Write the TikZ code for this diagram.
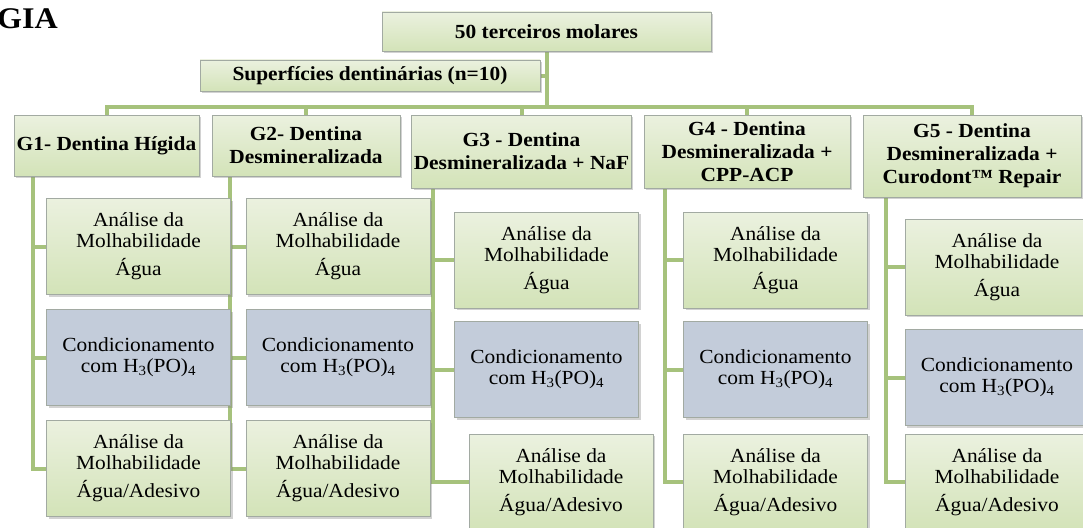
\documentclass[tikz,border=0pt]{standalone}
\usepackage{fontspec}
\setmainfont[FakeStretch=1.07]{Liberation Serif}
\usepackage{tikz}
\usetikzlibrary{shadows,backgrounds}
\definecolor{boxgreen}{HTML}{D3E3B8}
\definecolor{boxgreentop}{HTML}{EBF1DF}
\definecolor{boxblue}{HTML}{C3CCDA}
\definecolor{linegreen}{HTML}{A6C27C}
\definecolor{boxline}{HTML}{A2AAA2}
\newcommand{\bodyfont}{\fontsize{20}{21}\selectfont}
\newcommand{\headfont}{\fontsize{20}{23}\selectfont\bfseries}
\tikzstyle{box} = [draw=boxline, line width=0.7pt, align=center, inner sep=2pt,
                   drop shadow={shadow xshift=2pt, shadow yshift=-2pt, opacity=0.35}]
\tikzstyle{greenbox} = [box, top color=boxgreentop, bottom color=boxgreen, font=\bodyfont,
                        minimum width=184pt, minimum height=96pt]
\tikzstyle{bluebox} = [box, fill=boxblue, font=\bodyfont, minimum width=184pt, minimum height=96pt]
\tikzstyle{head} = [box, top color=boxgreentop, bottom color=boxgreen, font=\headfont]
\tikzstyle{conn} = [draw=linegreen, line width=4pt]

\begin{document}
\begin{tikzpicture}[x=1pt, y=-1pt]
	\useasboundingbox (0,0) rectangle (1083,527);
	% title (cut at the left)
	\node[anchor=base west, inner sep=0pt, font=\fontsize{30}{30}\selectfont\bfseries] (title) at (-3,29) {GIA};
	% top of the tree
	\node[head, minimum width=329pt, minimum height=39pt] (top) at (546.5,31.5) {50 terceiros molares};
	\node[head, minimum width=340pt, minimum height=31pt] (sup) at (370,75.5) {Superfícies dentinárias (n=10)};
	\coordinate (bus) at (0,107);
	% the five groups
	\node[head, minimum width=185pt, minimum height=61pt] (g1) at (106.5,145.5) {G1- Dentina Hígida};
	\node[head, minimum width=188pt, minimum height=61pt] (g2) at (306,145.5) {G2- Dentina\\Desmineralizada};
	\node[head, minimum width=217pt, minimum height=73pt] (g3) at (521.5,151.5) {G3 - Dentina\\Desmineralizada + NaF};
	\node[head, minimum width=206pt, minimum height=73pt] (g4) at (747,151.5) {G4 - Dentina\\Desmineralizada +\\CPP-ACP};
	\node[head, minimum width=218pt, minimum height=82pt] (g5) at (972,156) {G5 - Dentina\\Desmineralizada +\\Curodont™ Repair};
	% steps under each group
	\foreach \c/\xa/\xb/\ya/\yb/\yc in {1/138.5/138.5/246.5/357.5/468.5, 2/338/338/246.5/357.5/468.5,
	                                    3/546.5/561/260/369.5/482, 4/775.5/775.5/260/369.5/482,
	                                    5/997/997/267/377.5/482}
	{
		\node[greenbox] (a\c) at (\xa,\ya) {Análise da\\Molhabilidade\\[7pt]Água};
		\node[bluebox] (b\c) at (\xa,\yb) {Condicionamento\\com H\textsubscript{3}(PO)\textsubscript{4}};
		\node[greenbox] (c\c) at (\xb,\yc) {Análise da\\Molhabilidade\\[7pt]Água/Adesivo};
	}
	\begin{pgfonlayer}{background}
		\fill[white] (0,0) rectangle (1083,527);
		\draw[conn] (sup.east) -- (sup.east -| top.south);
		\foreach \g in {g1,g2,g3,g4,g5}
			\draw[conn] (top.south) -- (top.south |- bus) -| (\g.north);
		\foreach \c/\s in {1/19pt, 2/18pt, 3/22pt, 4/21pt, 5/23pt}
			\draw[conn] ([xshift=\s]g\c.south west) |- (a\c.west)
			            ([xshift=\s]g\c.south west) |- (b\c.west)
			            ([xshift=\s]g\c.south west) |- (c\c.west);
	\end{pgfonlayer}
\end{tikzpicture}
\end{document}
